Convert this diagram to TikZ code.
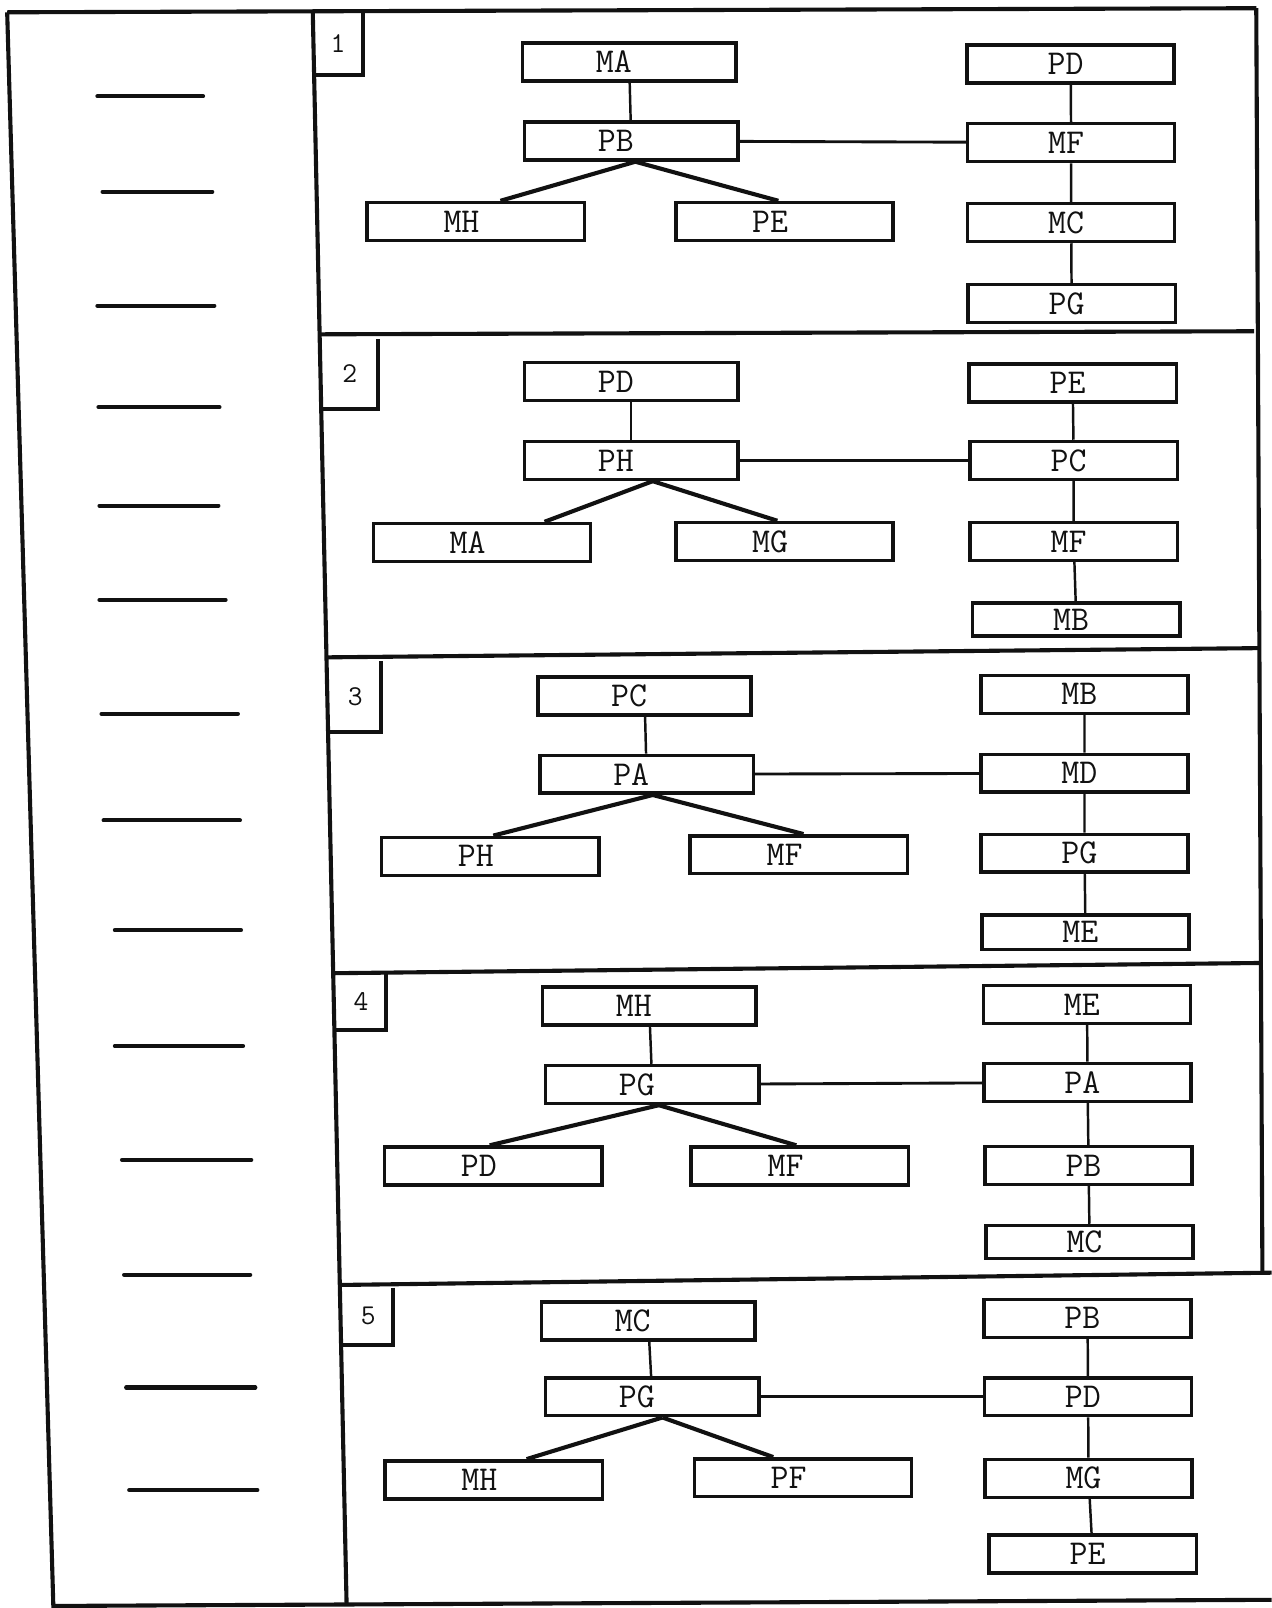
\documentclass[tikz,border=0pt]{standalone}
\usepackage{fontspec}
\usepackage{tikz}
\usetikzlibrary{calc}
\definecolor{cInk}{HTML}{111111}
\tikzset{
  kbox/.style={draw=cInk, line width=1.7pt, minimum width=#1, minimum height=18.5pt, inner sep=0pt,
               font=\ttfamily\addfontfeatures{FakeBold=1}\fontsize{17}{17}\selectfont, text=cInk},
  kbox/.default=104pt,
  kmid/.style={kbox=104pt, execute at begin node={\kern-15pt}},
  klow/.style={kbox=106pt, execute at begin node={\kern-14pt}},
  kcol/.style={kbox=101pt, execute at begin node={\kern-5pt}},
  knum/.style={inner sep=0pt, font=\ttfamily\fontsize{14}{14}\selectfont, text=cInk},
  klink/.style={draw=cInk, line width=1.2pt},
  kjoin/.style={draw=cInk, line width=1.4pt},
  ktree/.style={draw=cInk, line width=2pt},
  kframe/.style={draw=cInk, line width=2pt},
  ktick/.style={draw=cInk, line width=2pt, line cap=round},
}

\begin{document}
\begin{tikzpicture}[x=0.5pt, y=-0.5pt]
\useasboundingbox (0,0) rectangle (1240,1568);
\draw[kframe] (7,12) -- (1225,8);
\draw[kframe] (7,12) -- (52,1566) -- (1240,1560);
\draw[kframe] (305,12) -- (338,1566);
\draw[kframe] (1225,8) -- (1231,1241);
\draw[kframe] (312,326) -- (1223,323);
\draw[kframe] (318,641) -- (1228,632);
\draw[kframe] (325,949) -- (1230,939);
\draw[kframe] (331,1253) -- (1240,1241);
\foreach \xa/\xb/\yy in {95/198/94, 100/207/187, 95/209/298, 96/214/397, 97/213/493,
    97/220/585, 99/232/696, 101/234/800, 112/235/907, 112/237/1020, 119/245/1131,
    121/244/1243, 123/249/1353, 126/251/1453}
  \draw[ktick] (\xa,\yy) -- (\xb,\yy);

\node[knum, minimum width=24.5pt, minimum height=30.5pt] (n1) at (329.5,42.5) {1};
\draw[kframe] (n1.north east) -- (n1.south east) -- (n1.south west);
\node[kmid] (a1) at (613.5,60.5) {MA};
\node[kmid] (b1) at (615.5,137.5) {PB};
\node[klow] (c1) at (464,216) {MH};
\node[klow] (d1) at (765,216) {PE};
\node[kcol] (e1) at (1044,62.5) {PD};
\node[kcol] (f1) at (1044.5,139) {MF};
\node[kcol] (g1) at (1044.5,217) {MC};
\node[kcol] (h1) at (1045,296) {PG};
\draw[klink] (a1) -- (b1);
\draw[kjoin] (b1) -- (f1);
\draw[ktree] ($(b1.south)+(4,0)$) -- ($(c1.north)+(24,0)$);
\draw[ktree] ($(b1.south)+(4,0)$) -- ($(d1.north)+(-6,0)$);
\draw[klink] (e1) -- (f1) (f1) -- (g1) (g1) -- (h1);

\node[knum, minimum width=27pt, minimum height=33.5pt] (n2) at (341,364.5) {2};
\draw[kframe] (n2.north east) -- (n2.south east) -- (n2.south west);
\node[kmid] (a2) at (615.5,372) {PD};
\node[kmid] (b2) at (615.5,449) {PH};
\node[klow] (c2) at (470,529) {MA};
\node[klow] (d2) at (765,528) {MG};
\node[kcol] (e2) at (1046,373.5) {PE};
\node[kcol] (f2) at (1047,449) {PC};
\node[kcol] (g2) at (1047,528) {MF};
\node[kcol, minimum height=16pt] (h2) at (1049.5,604) {MB};
\draw[klink] (a2) -- (b2);
\draw[kjoin] (b2) -- (f2);
\draw[ktree] ($(b2.south)+(21,0)$) -- ($(c2.north)+(61,0)$);
\draw[ktree] ($(b2.south)+(21,0)$) -- ($(d2.north)+(-7,0)$);
\draw[klink] (e2) -- (f2) (f2) -- (g2) (g2) -- (h2);

\node[knum, minimum width=24.5pt, minimum height=34pt] (n3) at (346.5,679) {3};
\draw[kframe] (n3.north east) -- (n3.south east) -- (n3.south west);
\node[kmid] (a3) at (628.5,678.5) {PC};
\node[kmid] (b3) at (630.5,755) {PA};
\node[klow] (c3) at (478,835) {PH};
\node[klow] (d3) at (779,833.5) {MF};
\node[kcol] (e3) at (1057.5,677) {MB};
\node[kcol] (f3) at (1057.5,754) {MD};
\node[kcol] (g3) at (1057.5,832) {PG};
\node[kcol, minimum height=17pt] (h3) at (1058.5,909) {ME};
\draw[klink] (a3) -- (b3);
\draw[kjoin] (b3) -- (f3);
\draw[ktree] ($(b3.south)+(6,0)$) -- ($(c3.north)+(3,0)$);
\draw[ktree] ($(b3.south)+(6,0)$) -- ($(d3.north)+(4.5,0)$);
\draw[klink] (e3) -- (f3) (f3) -- (g3) (g3) -- (h3);

\node[knum, minimum width=24pt, minimum height=27pt] (n4) at (352,977) {4};
\draw[kframe] (n4.north east) -- (n4.south east) -- (n4.south west);
\node[kmid] (a4) at (633,981) {MH};
\node[kmid] (b4) at (636,1057.5) {PG};
\node[klow] (c4) at (481,1137) {PD};
\node[klow] (d4) at (780,1137) {MF};
\node[kcol] (e4) at (1060,979.5) {ME};
\node[kcol] (f4) at (1060.5,1055.5) {PA};
\node[kcol] (g4) at (1061.5,1136.5) {PB};
\node[kcol, minimum height=16pt] (h4) at (1062.5,1211) {MC};
\draw[klink] (a4) -- (b4);
\draw[kjoin] (b4) -- (f4);
\draw[ktree] ($(b4.south)+(6.5,0)$) -- ($(c4.north)+(-3.5,0)$);
\draw[ktree] ($(b4.south)+(6.5,0)$) -- ($(d4.north)+(-3.5,0)$);
\draw[klink] (e4) -- (f4) (f4) -- (g4) (g4) -- (h4);

\node[knum, minimum width=24pt, minimum height=27.5pt] (n5) at (359,1283.5) {5};
\draw[kframe] (n5.north east) -- (n5.south east) -- (n5.south west);
\node[kmid] (a5) at (632,1288) {MC};
\node[kmid] (b5) at (636,1362) {PG};
\node[klow] (c5) at (481.5,1443) {MH};
\node[klow] (d5) at (783,1441) {PF};
\node[kcol] (e5) at (1060.5,1285.5) {PB};
\node[kcol] (f5) at (1061,1362) {PD};
\node[kcol] (g5) at (1061.5,1441.5) {MG};
\node[kcol] (h5) at (1065.5,1515.5) {PE};
\draw[klink] (a5) -- (b5);
\draw[kjoin] (b5) -- (f5);
\draw[ktree] ($(b5.south)+(10,0)$) -- ($(c5.north)+(32,0)$);
\draw[ktree] ($(b5.south)+(10,0)$) -- ($(d5.north)+(-29,0)$);
\draw[klink] (e5) -- (f5) (f5) -- (g5) (g5) -- (h5);
\end{tikzpicture}
\end{document}
